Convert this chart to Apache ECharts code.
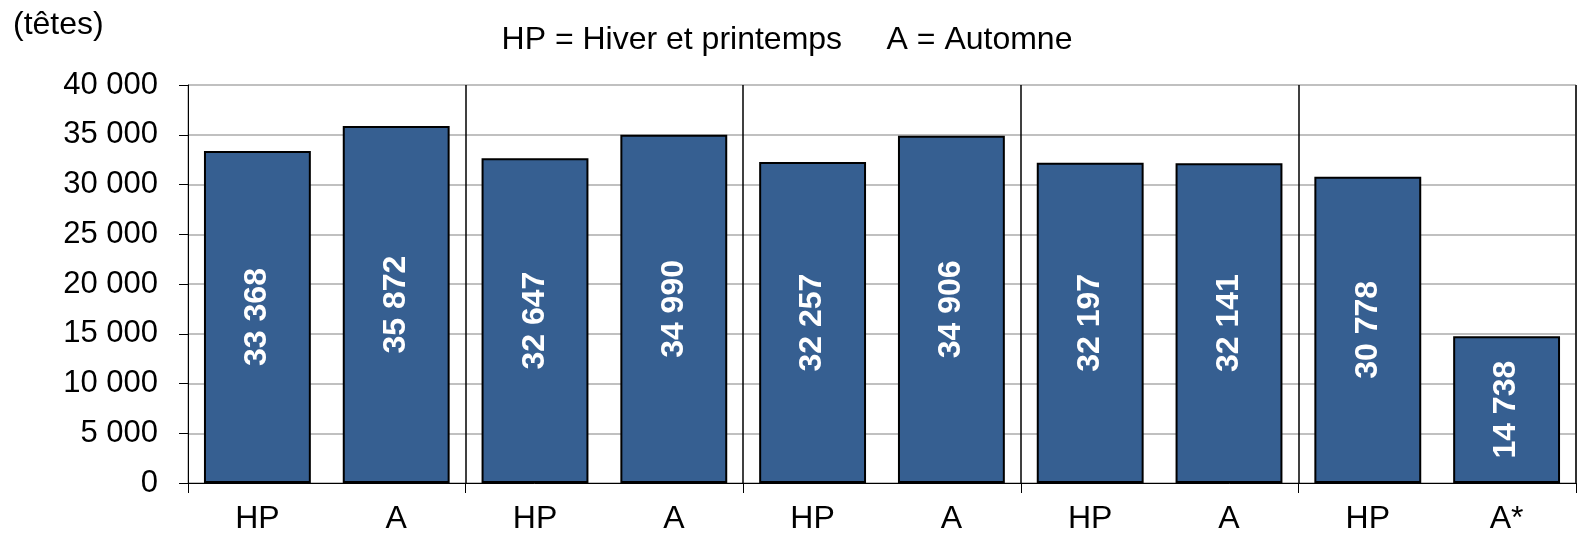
<!DOCTYPE html>
<html>
<head>
<meta charset="utf-8">
<style>
  html, body { margin: 0; padding: 0; background: #fff; }
  #chart { width: 1583px; height: 536px; }
</style>
<script src="https://cdn.jsdelivr.net/npm/echarts@6/dist/echarts.min.js"></script>
</head>
<body>
<div id="chart"></div>
<script>
// saisons (HP = hiver et printemps, A = automne)
var categories = ['HP', 'A', 'HP', 'A', 'HP', 'A', 'HP', 'A', 'HP', 'A*'];
var tetes = [33368, 35872, 32647, 34990, 32257, 34906, 32197, 32141, 30778, 14738];
var yTicks = [0, 5000, 10000, 15000, 20000, 25000, 30000, 35000, 40000];

function fmt(v) {
  return String(v).replace(/\B(?=(\d{3})+(?!\d))/g, ' ');
}

var myChart = echarts.init(document.getElementById('chart'));
var font = '"Liberation Sans", Arial, sans-serif';

var option = {
  animation: false,
  textStyle: { fontFamily: font },
  title: [
    {
      text: '(têtes)',
      left: 8, top: 4,
      textStyle: { fontSize: 32, fontWeight: 'normal', color: '#000', fontFamily: font }
    },
    {
      text: 'HP = Hiver et printemps     A = Automne',
      left: 782, top: 19, textAlign: 'center',
      textStyle: { fontSize: 32, fontWeight: 'normal', color: '#000', fontFamily: font }
    }
  ],
  grid: {
    left: 188, right: 7, top: 85, bottom: 53,
    show: true, borderColor: '#8c8c8c', borderWidth: 1
  },
  xAxis: {
    type: 'category',
    data: categories,
    boundaryGap: true,
    axisLine: { lineStyle: { color: '#000', width: 1 } },
    axisTick: {
      show: true, length: 10,
      interval: function (i) { return i % 2 === 0; },
      lineStyle: { color: '#000' }
    },
    splitLine: {
      show: true,
      interval: function (i) { return i % 2 === 0 && i > 0; },
      lineStyle: { color: '#000', width: 1.5 }
    },
    axisLabel: { color: '#000', fontSize: 32, margin: 20, interval: 0, fontFamily: font }
  },
  yAxis: {
    type: 'value',
    min: 0, max: 40000, interval: 5000,
    axisLine: { show: true, lineStyle: { color: '#000', width: 1 } },
    axisTick: { show: true, inside: false, length: 9, lineStyle: { color: '#000' } },
    splitLine: { show: true, lineStyle: { color: '#c0c0c0', width: 2 } },
    axisLabel: {
      color: '#000', fontSize: 31, margin: 30, fontFamily: font,
      formatter: function (v) { return yTicks.indexOf(v) >= 0 ? fmt(v) : ''; }
    }
  },
  series: [{
    type: 'bar',
    data: tetes,
    barCategoryGap: '23%',
    itemStyle: { color: '#365f91', borderColor: '#000', borderWidth: 2 },
    label: {
      show: true,
      position: 'inside',
      rotate: 90,
      color: '#fff',
      fontWeight: 'bold',
      fontSize: 32,
      fontFamily: font,
      formatter: function (p) { return fmt(p.value); }
    }
  }]
};

myChart.setOption(option);
window.addEventListener('resize', function () { myChart.resize(); });
</script>
</body>
</html>
